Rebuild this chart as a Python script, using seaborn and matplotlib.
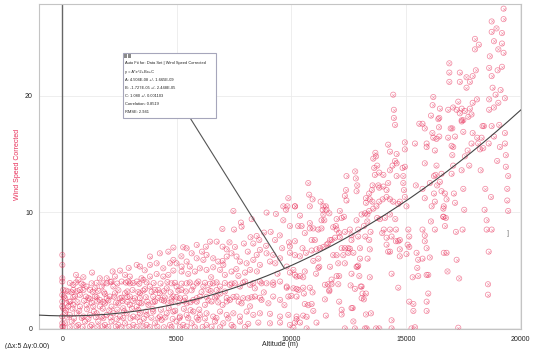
import numpy as np
import pandas as pd
import matplotlib
matplotlib.use("Agg")
import matplotlib.pyplot as plt
from matplotlib.patches import Rectangle
from matplotlib.ticker import MultipleLocator
import seaborn as sns

# ---- Observations: (altitude in m, corrected wind speed) ----
# profiles above 10 km
upper_profiles = [
    (19270, 27.5), (18750, 26.4), (19270, 26.6), (18960, 25.8), (18750, 25.5), (19200, 25.4),
    (18850, 24.7), (19200, 24.5), (19040, 24.0), (18670, 23.4), (19270, 23.7), (19200, 22.5),
    (18640, 22.4), (19010, 22.2), (18750, 21.7), (19140, 20.5), (18790, 20.7), (18920, 20.1),
    (18640, 19.7), (19330, 19.8), (19040, 19.4), (18850, 19.0), (18640, 18.8), (19080, 17.5),
    (18750, 17.4), (18410, 17.4), (18850, 16.5), (18620, 15.9), (18380, 15.5), (18240, 15.4),
    (19330, 16.8), (19330, 15.9), (19110, 15.6), (19370, 14.9), (19370, 13.9), (18990, 14.4),
    (19470, 13.1), (19430, 12.0), (19430, 11.0), (19470, 10.1), (18470, 12.0), (18720, 11.3),
    (18440, 10.2), (18530, 9.3), (18750, 8.5), (18530, 8.5), (18620, 6.6), (18590, 3.8),
    (18590, 2.9), (18270, 13.6),
    (18020, 24.9), (18190, 24.4), (18020, 24.0), (18060, 22.2), (17920, 21.7), (17650, 21.6),
    (17800, 21.2), (17650, 20.7), (18110, 19.7), (17920, 19.4), (17800, 18.9), (17580, 18.7),
    (17870, 18.4), (17730, 18.2), (17510, 17.9), (17440, 17.8), (18350, 17.4), (18120, 16.4),
    (17920, 16.8), (18160, 15.9), (17870, 15.9), (17700, 15.3), (17580, 14.8), (18310, 16.4),
    (17770, 14.0), (17510, 12.0), (17550, 10.2), (17480, 8.5), (17330, 4.3), (17290, 0.06),
    (16900, 22.8), (16900, 22.0), (16900, 21.2), (17360, 22.0), (17360, 21.2), (17290, 19.5),
    (17070, 19.0), (17440, 18.9), (17360, 18.5), (17220, 18.8), (16850, 18.8), (17440, 17.9),
    (16960, 17.2), (17030, 17.2), (17510, 16.9), (17150, 16.5), (16850, 16.4), (17000, 15.7),
    (17070, 15.6), (17030, 14.9), (17070, 14.0), (17000, 13.3), (17440, 13.6), (17100, 11.6),
    (17150, 10.8), (16780, 11.1), (16710, 11.6), (16560, 11.8), (16660, 10.5), (16640, 9.6),
    (16710, 8.8), (16750, 9.5), (17190, 8.3), (16660, 6.5), (16780, 6.5), (16820, 4.9),
    (17220, 5.9),
]

mid_profiles = [
    (16200, 19.9), (16170, 19.2), (16490, 18.9), (16460, 18.1), (16420, 18.0), (16100, 18.3),
    (16450, 17.3), (16160, 16.8), (16200, 16.4), (16460, 16.5), (16340, 16.3), (15910, 15.9),
    (16270, 15.3), (15910, 15.6), (15730, 17.6), (15830, 17.2), (15590, 17.6), (15400, 15.9),
    (14960, 16.0), (14960, 15.4), (16340, 14.0), (16300, 13.2), (16230, 13.1), (16490, 12.6),
    (16370, 12.3), (16560, 13.3), (16050, 12.5), (15830, 14.2), (15440, 12.3), (15730, 12.0),
    (16230, 11.6), (15830, 11.2), (16270, 10.9), (16130, 10.5), (16640, 10.3), (16640, 9.6),
    (16270, 8.5), (16100, 9.2), (15730, 8.5), (15830, 8.0), (15830, 7.5), (15910, 6.9),
    (16050, 6.1), (15730, 6.0), (15470, 6.5), (15540, 5.9), (15500, 5.2), (15980, 4.6),
    (15910, 4.6), (15540, 4.5), (15300, 4.4), (15330, 2.1), (15330, 1.5), (15980, 3.0),
    (15910, 2.3), (15910, 1.5), (15400, 0.1), (15250, 0.0),
    (14450, 20.1), (14480, 18.8), (14480, 18.1), (14530, 17.5), (14230, 15.8), (14310, 15.2),
    (13670, 15.1), (14600, 15.0), (14530, 14.4), (14600, 14.2), (14420, 14.0), (14310, 13.6),
    (14020, 13.2), (13840, 13.4), (13620, 13.8), (13650, 13.2), (13550, 12.3), (13800, 12.3),
    (13840, 12.1), (14020, 12.2), (14160, 11.9), (14230, 12.5), (14600, 13.1), (14890, 13.1),
    (14860, 13.8), (14960, 13.9), (14890, 12.5), (14920, 11.9), (14960, 11.3), (15030, 10.5),
    (14740, 10.9), (14670, 10.7), (14450, 10.9), (14310, 11.1), (14160, 11.3), (13990, 11.1),
    (13840, 10.9), (13720, 10.5), (13580, 10.3), (13400, 10.1), (13320, 9.8), (13430, 11.1),
    (13520, 11.9), (14310, 9.8), (14090, 9.5), (13870, 9.4), (13750, 9.5), (14540, 9.4),
    (14570, 8.5), (15110, 8.5), (15150, 7.9), (15150, 7.0), (15030, 6.4), (15080, 7.2),
    (14740, 7.6), (14740, 6.8), (14670, 7.5), (14570, 7.5), (14380, 7.9), (14160, 7.8),
    (14310, 8.5), (14040, 8.5), (13970, 8.2), (14310, 6.6), (14230, 6.6), (14160, 7.2),
    (14740, 6.2), (14380, 4.7), (14670, 3.5), (15150, 2.3),
    (13580, 14.6), (13700, 14.8), (13750, 14.0), (13260, 11.2), (13400, 11.6), (13540, 10.9),
    (13260, 10.8), (13220, 9.9), (13070, 9.8), (13320, 9.2), (13170, 8.8), (13460, 8.3),
    (13230, 7.9), (13400, 7.6), (13430, 6.8), (13330, 6.0), (12850, 9.3), (12920, 8.5),
    (12920, 7.9), (13000, 6.9), (13000, 6.0), (12890, 5.3), (12970, 4.5), (13030, 3.6),
    (13110, 3.0), (13170, 2.5), (13260, 3.0), (13430, 4.4), (13480, 1.3), (13260, 1.2),
    (13220, 0.0), (13290, 0.0), (14380, 0.7), (14380, 0.0), (13840, 0.0), (13700, 0.0),
]

lower_profiles = [
    (12410, 13.1), (12790, 13.5), (12820, 12.9), (12880, 12.3), (12850, 11.8), (12390, 11.9),
    (12340, 11.4), (12410, 11.0), (12120, 10.1), (12300, 9.6), (12200, 9.5), (11980, 9.4),
    (11950, 8.8), (11830, 8.7), (11980, 8.5), (12090, 8.2), (12340, 8.3), (12560, 8.5),
    (12630, 8.0), (12120, 7.85), (11910, 7.8), (11760, 7.6), (11690, 7.6), (11610, 7.3),
    (11540, 7.2), (12490, 6.9), (12340, 6.9), (12200, 6.9), (12560, 6.85), (12630, 7.6),
    (12710, 6.5), (12490, 6.5), (12270, 6.3), (12340, 5.6), (12050, 5.6), (11980, 6.3),
    (11830, 6.3), (12920, 5.4), (12850, 5.3), (12630, 4.7), (12090, 4.5), (11980, 4.5),
    (11760, 4.2), (12590, 3.7), (13070, 3.6), (12780, 3.4), (12050, 3.8), (11760, 3.8),
    (11610, 3.8), (11470, 3.75), (11660, 3.2), (11470, 2.5), (13070, 2.6), (12630, 1.75),
    (12680, 1.75), (12200, 1.6), (12090, 2.3), (12710, 0.6), (12200, 1.2), (12340, 0.0),
    (12780, 0.0),
    (10160, 10.5), (9940, 8.8), (10300, 8.8), (10450, 8.8), (10380, 9.7), (10740, 12.5),
    (10780, 11.5), (10930, 11.1), (10810, 10.5), (10810, 9.05), (10810, 8.6), (10960, 8.6),
    (11180, 8.5), (11320, 8.6), (11280, 10.9), (11400, 10.5), (11510, 10.5), (11370, 10.2),
    (11540, 10.2), (11400, 9.8), (11320, 9.3), (11440, 9.3), (11660, 9.9), (10890, 7.6),
    (11030, 7.6), (10590, 8.2), (10490, 6.9), (10160, 7.5), (9940, 7.05), (9940, 6.5),
    (10160, 6.3), (10380, 6.2), (10640, 6.5), (10890, 6.7), (11100, 6.8), (11250, 6.9),
    (11400, 7.0), (11180, 6.0), (10960, 5.8), (11220, 5.3), (11690, 5.3), (11080, 4.7),
    (11180, 5.2), (10590, 4.9), (10380, 4.5), (10160, 4.6), (9940, 4.8), (10520, 4.4),
    (10230, 3.4), (10520, 3.5), (10810, 3.5), (10930, 3.1), (10550, 3.0), (10590, 2.1),
    (10740, 2.0), (10890, 2.1), (10520, 1.1), (10670, 1.0), (10960, 1.5), (10230, 0.8),
    (10160, 0.5), (10380, 0.5), (10090, 0.05), (10670, 0.0), (11100, 0.5), (11510, 1.1),
    (11660, 3.3),
]

# below 10 km: upper edge of the cloud
low_upper = [
    (7470, 10.1), (6990, 8.55), (7500, 8.5), (7830, 8.75), (7800, 9.1), (8270, 9.4),
    (8920, 9.96), (9330, 9.84), (9650, 9.3), (9830, 10.5), (9870, 11.2), (9650, 10.5),
    (9770, 10.2), (10160, 10.5), (8490, 7.95), (8810, 8.24), (9290, 7.6), (8220, 7.84),
    (8340, 7.3), (7930, 7.3), (7540, 7.0), (7180, 6.8), (7000, 7.03), (6740, 7.46),
    (6450, 7.46), (6270, 7.03), (5870, 7.18), (5430, 6.89), (5280, 6.98), (4850, 6.95),
    (4630, 6.6), (4260, 6.46), (3830, 6.18), (3390, 5.32), (3250, 5.46), (2520, 4.97),
    (2740, 4.6), (2950, 4.46), (1940, 4.31), (2150, 4.03), (920, 4.4), (700, 4.17),
    (480, 3.74), (1640, 4.31), (1280, 3.88), (920, 3.74), (2230, 3.6), (2880, 4.03),
    (3460, 4.31), (3830, 5.46), (4120, 5.6), (4410, 5.17), (4850, 5.89), (4990, 5.6),
    (5210, 5.32), (5430, 5.75), (5570, 5.32), (5650, 6.46), (5870, 6.03), (6160, 5.89),
    (6300, 6.32), (6590, 6.03), (6810, 5.75), (7030, 5.46), (7180, 6.18), (7390, 6.46),
    (7610, 6.18), (7760, 5.75), (8050, 5.6), (8340, 5.89), (8490, 6.32), (8630, 6.75),
    (8920, 6.46), (9210, 6.32), (9510, 6.03), (9800, 5.32), (10090, 5.03), (10230, 4.46),
    (9070, 5.75), (8630, 5.46), (8200, 5.03), (7980, 4.8), (7690, 4.51), (7390, 4.89),
    (7100, 4.6), (6890, 5.03), (6590, 5.26), (6300, 5.03), (6010, 5.17), (5790, 4.89),
    (5500, 4.68), (5210, 4.89), (4850, 4.97), (4630, 4.6), (4410, 4.46), (4120, 4.68),
    (3830, 4.46), (3540, 4.17), (3250, 4.03), (2950, 3.88), (2590, 4.03), (2300, 4.46),
    (1940, 3.88), (1720, 3.6), (1430, 3.45), (1210, 3.31), (1060, 3.6), (770, 3.31),
    (480, 3.31), (260, 3.17), (40, 3.31), (0, 6.32), (0, 5.46), (0, 4.31), (0, 4.03),
    (0, 2.88), (6500, 4.4), (7000, 5.8), (7600, 5.1), (8100, 6.6), (8500, 4.9),
    (8900, 7.1), (9300, 5.6), (9600, 6.9), (9400, 4.7), (9100, 8.3), (9900, 7.4),
    (9500, 8.0), (8600, 7.6), (7300, 7.4), (6100, 6.6), (5200, 6.2), (4700, 5.6),
    (3600, 5.0), (2900, 5.2), (2200, 4.9), (1300, 4.8), (600, 4.6),
]

# below 10 km: dense core near the ground
low_core = [
    (70, 2.74), (190, 2.16), (360, 2.31), (550, 2.74), (770, 2.88), (1030, 2.74),
    (1210, 2.51), (1430, 2.74), (1640, 2.45), (1860, 2.97), (2080, 2.74), (2300, 3.02),
    (2520, 2.59), (2740, 3.02), (2950, 2.74), (3170, 2.59), (3390, 3.02), (3610, 3.37),
    (3830, 3.6), (4050, 3.31), (4260, 3.02), (4560, 3.45), (4770, 3.88), (4990, 3.6),
    (5210, 3.31), (5430, 3.88), (5720, 3.6), (5940, 4.03), (6160, 3.6), (6380, 3.31),
    (6590, 3.88), (6890, 3.6), (7100, 3.17), (7320, 3.74), (7540, 3.88), (7760, 3.6),
    (7980, 4.03), (8200, 3.74), (8410, 3.45), (8630, 4.03), (8920, 3.88), (9210, 3.74),
    (9510, 4.03), (9800, 3.6), (10090, 3.45), (10310, 3.31), (10230, 2.74), (9870, 2.74),
    (9510, 2.45), (9210, 2.74), (9000, 2.16), (8700, 2.45), (8410, 2.74), (8120, 2.59),
    (7830, 2.16), (7610, 2.74), (7320, 2.45), (7000, 2.02), (6740, 2.74), (6520, 2.31),
    (6230, 2.02), (6010, 2.74), (5720, 2.45), (5430, 2.16), (5140, 2.59), (4850, 2.74),
    (4630, 2.16), (4340, 2.45), (4050, 2.31), (3760, 2.02), (3460, 2.16), (3250, 1.88),
    (2950, 2.02), (2660, 1.73), (2450, 2.16), (2150, 1.88), (1860, 2.16), (1640, 1.88),
    (1350, 1.88), (1060, 2.02), (770, 1.88), (480, 2.02), (260, 1.88), (40, 1.73),
    (120, 1.3), (330, 1.16), (630, 1.3), (920, 1.02), (1210, 1.16), (1500, 1.3),
    (1720, 1.02), (1940, 1.16), (2230, 1.3), (2520, 1.02), (2810, 1.3), (3100, 1.02),
    (3390, 1.3), (3680, 1.16), (3970, 1.45), (4260, 1.02), (4560, 1.3), (4850, 1.45),
    (5140, 1.02), (5430, 1.16), (5720, 1.45), (6010, 1.16), (6300, 1.3), (6590, 1.02),
    (6890, 1.45), (7180, 1.16), (7470, 1.3), (7760, 1.02), (8050, 1.45), (8340, 1.16),
    (8630, 1.3), (9070, 1.25), (9510, 1.02), (9870, 1.16), (10230, 1.02),
    (120, 0.44), (410, 0.59), (700, 0.3), (990, 0.59), (1280, 0.3), (1570, 0.59),
    (1860, 0.3), (2150, 0.59), (2450, 0.3), (2740, 0.44), (3100, 0.3), (3390, 0.59),
    (3680, 0.3), (4050, 0.44), (4340, 0.73), (4700, 0.3), (4990, 0.59), (5280, 0.3),
    (5650, 0.44), (5940, 0.73), (6300, 0.3), (6670, 0.59), (7030, 0.44), (7390, 0.3),
    (7760, 0.59), (8120, 0.39), (8560, 0.5), (9070, 0.44), (9510, 0.5), (9940, 0.3),
    (0, 1.02), (0, 1.88), (0, 2.31), (0, 0.44), (0, 0.16),
    (9800, 3.5), (10000, 2.8), (8800, 3.1), (9700, 2.0), (8200, 1.9), (7700, 2.3), (6900, 3.0),
]

low_core_extra = [
    (160, 1.55), (450, 1.7), (740, 1.5), (1080, 1.65), (1380, 1.45), (1770, 1.7), (2050, 1.55),
    (2400, 1.62), (2700, 1.48), (3040, 1.7), (3320, 1.58), (3650, 1.45), (3950, 1.66), (4310, 1.6),
    (4650, 1.75), (4930, 1.52), (5310, 1.68), (5600, 1.57), (5980, 1.62),
    (220, 0.95), (510, 0.85), (850, 0.9), (1140, 0.82), (1470, 0.97), (1790, 0.88), (2110, 0.93),
    (2380, 0.8), (2660, 0.9), (2980, 0.86), (3280, 0.95), (3560, 0.84), (3890, 0.92), (4190, 0.87),
    (4500, 0.95), (4820, 0.82), (5120, 0.9), (5500, 0.88), (5870, 0.93), (6230, 0.85), (6730, 0.9),
    (7250, 0.86),
    (310, 2.3), (660, 2.25), (950, 2.38), (1290, 2.2), (1530, 2.33), (1790, 2.28), (2010, 2.4),
    (2350, 2.22), (2630, 2.35), (2840, 2.27), (3100, 2.36), (3360, 2.2), (3710, 2.3), (3970, 2.25),
    (4440, 2.38), (4770, 2.3), (5070, 2.22), (5310, 2.34), (5600, 2.26), (5870, 2.3), (6380, 2.4),
    (6810, 2.24), (7180, 2.32),
    (40, 0.15), (330, 0.1), (620, 0.18), (890, 0.12), (1210, 0.15), (1530, 0.1), (1760, 0.17),
    (2010, 0.12), (2340, 0.16), (2590, 0.1), (2930, 0.14), (3250, 0.12), (3540, 0.17), (3830, 0.11),
    (4150, 0.15), (4440, 0.1), (4770, 0.14), (5140, 0.12), (5430, 0.16), (5790, 0.1), (6130, 0.13),
    (6520, 0.15), (6890, 0.1), (7470, 0.14), (7980, 0.12),
    (160, 3.25), (410, 3.1), (660, 3.2), (920, 3.3), (1330, 3.15), (1570, 3.22), (1820, 3.1),
    (2450, 3.28), (2840, 3.18), (3070, 3.3), (3320, 3.12), (3540, 3.25), (3900, 3.15), (4190, 3.3),
    (4440, 3.2), (4730, 3.1), (5070, 3.25), (5400, 3.18), (5650, 3.28), (6080, 3.12), (6480, 3.22),
    (6740, 3.3),
    (120, 2.6), (480, 2.7), (1140, 2.62), (1500, 2.68), (1940, 2.58), (2260, 2.72), (2590, 2.64),
    (2840, 2.7), (3390, 2.6), (3650, 2.68), (3970, 2.74), (4190, 2.62), (4480, 2.66), (4770, 2.58),
    (4990, 2.7), (5360, 2.64), (5870, 2.6), (6300, 2.72), (6670, 2.66), (7180, 2.62), (7470, 2.7),
    (7900, 2.6), (8270, 2.68), (8630, 2.64),
    (330, 3.9), (600, 3.95), (840, 3.85), (1500, 3.92), (1790, 3.88), (2110, 3.98), (2400, 3.86),
    (2780, 3.94), (3100, 3.9), (3360, 3.84), (3680, 3.96), (3990, 3.9), (4290, 3.86), (4590, 3.98),
    (4920, 3.92), (5210, 3.85), (5570, 3.95), (5870, 3.88), (6230, 3.92), (6450, 3.84), (6740, 3.96),
    (7100, 3.9), (7390, 3.86), (7900, 3.94), (8340, 3.9), (8700, 3.88), (9210, 3.95),
]

# ---- Quadratic fit y = A*x^2 + B*x + C ----
fit_A = 4.504e-08
fit_B = -1.727e-05
fit_C = 1.080
fit_lines = [
    "Auto Fit for: Data Set | Wind Speed Corrected",
    "y = A*x^2+Bx+C",
    "A: 4.504E-08 +/- 1.665E-09",
    "B: -1.727E-05 +/- 2.448E-05",
    "C: 1.080 +/- 0.001103",
    "Correlation: 0.8519",
    "RMSE: 2.941",
]

x_ticks = [0, 5000, 10000, 15000, 20000]
y_ticks = [0, 10, 20]

points = upper_profiles + mid_profiles + lower_profiles + low_upper + low_core + low_core_extra
df = pd.DataFrame(points, columns=["Altitude (m)", "Wind Speed Corrected"])

sns.set_theme(style="white")
plt.rcParams["font.family"] = ["Liberation Sans", "DejaVu Sans"]

W, H = 534, 349
fig = plt.figure(figsize=(W / 100, H / 100), dpi=100)
ax = fig.add_axes([38.5 / W, 1 - 329 / H, (521 - 38.5) / W, (329 - 4) / H])

red = "#e8305a"

# open circles with a small cross inside
sns.scatterplot(data=df, x="Altitude (m)", y="Wind Speed Corrected", ax=ax,
                marker="o", s=14, facecolors="none", edgecolor=red,
                linewidth=0.55, alpha=0.55, legend=False, zorder=3)
sns.scatterplot(data=df, x="Altitude (m)", y="Wind Speed Corrected", ax=ax,
                marker="x", s=3, color=red, linewidth=0.45, alpha=0.5,
                legend=False, zorder=3)

x_lo, x_hi = -1040, 20030
xs = np.linspace(x_lo, x_hi, 400)
fit_df = pd.DataFrame({"x": xs, "y": fit_A * xs ** 2 + fit_B * xs + fit_C})
sns.lineplot(data=fit_df, x="x", y="y", ax=ax, color="#444444", linewidth=0.8, zorder=4)

ax.set_xlim(x_lo, x_hi)
ax.set_ylim(-0.05, 27.9)
ax.axvline(0, color="#666666", linewidth=1.0, zorder=2)

ax.xaxis.set_major_locator(matplotlib.ticker.FixedLocator(x_ticks))
ax.yaxis.set_major_locator(matplotlib.ticker.FixedLocator(y_ticks))
ax.xaxis.set_minor_locator(MultipleLocator(1000))
ax.yaxis.set_minor_locator(MultipleLocator(2))
ax.set_xticklabels([str(v) for v in x_ticks])
ax.set_yticklabels([str(v) for v in y_ticks])
ax.tick_params(axis="both", which="both", direction="in", colors="#999999",
               labelcolor="#222222", labelsize=5)
ax.tick_params(axis="both", which="major", length=3, width=0.6)
ax.tick_params(axis="both", which="minor", length=2, width=0.5)
ax.tick_params(axis="x", pad=5)
ax.tick_params(axis="y", pad=4)

ax.grid(True, which="major", color="#ebebeb", linewidth=0.6, zorder=0)
ax.set_axisbelow(True)
for sp in ax.spines.values():
    sp.set_color("#c4c4c4")
    sp.set_linewidth(0.8)

ax.set_xlabel("")
ax.set_ylabel("")
fig.text(280 / W, 1 - 345 / H, "Altitude (m)", ha="center", va="center", fontsize=5, color="#222222")
fig.text(18 / W, 1 - 164 / H, "Wind Speed Corrected", ha="center", va="center",
         rotation=90, fontsize=5, color=red)
fig.text(5 / W, 1 - 346 / H, "(\u0394x:5 \u0394y:0.00)", ha="left", va="center",
         fontsize=5, color="#222222")

# small bracket marker near the right edge
ax.text(19460, 8.2, "]", fontsize=5, color="#777777", ha="center", va="center")

# fit annotation box with a leader line to the curve
box_x0, box_y0, box_x1, box_y1 = 123, 53, 216, 118
fig.patches.append(Rectangle((box_x0 / W, 1 - box_y1 / H), (box_x1 - box_x0) / W,
                             (box_y1 - box_y0) / H, transform=fig.transFigure,
                             facecolor="white", edgecolor="#a6a6bb", linewidth=0.8, zorder=10))
for dx in (0, 3.6):
    fig.patches.append(Rectangle(((box_x0 + 1.5 + dx) / W, 1 - 58 / H), 3 / W, 4 / H,
                                 transform=fig.transFigure, facecolor="#8a8a8a",
                                 edgecolor="none", zorder=11))
line_y = [63, 72, 80, 88, 96, 104, 112]
for txt, yy in zip(fit_lines, line_y):
    fig.text(125 / W, 1 - yy / H, txt, ha="left", va="center", fontsize=2.9,
             color="#222222", zorder=12)

lead_x0, lead_y0 = 5580, 18.1
lead_x1 = 9700
lead_y1 = fit_A * lead_x1 ** 2 + fit_B * lead_x1 + fit_C
ax.plot([lead_x0, lead_x1], [lead_y0, lead_y1], color="#555555", linewidth=0.8, zorder=4)

fig.savefig("out.png", dpi=100)
